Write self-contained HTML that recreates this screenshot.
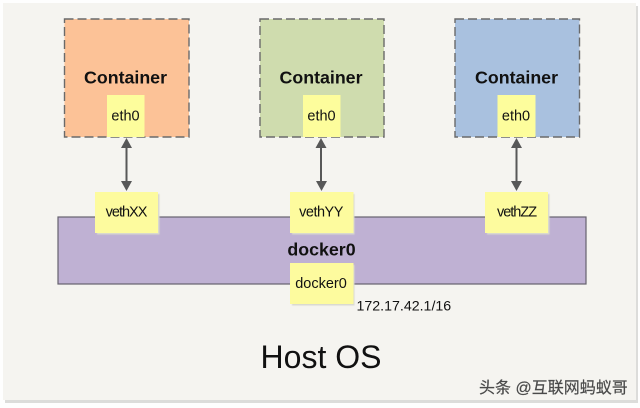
<!DOCTYPE html>
<html>
<head>
<meta charset="utf-8">
<style>
html,body{margin:0;padding:0;background:#fff;}
svg{display:block;}
text{font-family:"Liberation Sans","Noto Sans CJK SC",sans-serif;fill:#111;}
</style>
</head>
<body>
<svg width="640" height="408" viewBox="0 0 640 408" xmlns="http://www.w3.org/2000/svg">
<defs>
<filter id="b" x="-5%" y="-5%" width="110%" height="110%"><feGaussianBlur stdDeviation="0.4"/></filter>
</defs>
<rect width="640" height="408" fill="#fefefe"/>
<rect x="5" y="6" width="633" height="397" fill="#dcdcda"/>
<rect x="3" y="3" width="633" height="397" fill="#f5f4f0"/>

<g stroke="#6a6a6a" stroke-width="1.4" stroke-dasharray="9 4">
<rect x="64.5" y="19" width="124.5" height="118" fill="#fcc297"/>
<rect x="260" y="19" width="124" height="118" fill="#cfdcae"/>
<rect x="455" y="19" width="124.5" height="118" fill="#a9c1df"/>
</g>

<g font-size="17.800" font-weight="700" text-anchor="middle">
<text x="125.500" y="83.500">Container</text>
<text x="321" y="83.500">Container</text>
<text x="516.500" y="83.500">Container</text>
</g>

<g fill="#fdfd9c">
<rect x="107" y="95" width="37.500" height="42"/>
<rect x="303" y="95" width="37.500" height="42"/>
<rect x="497.500" y="95" width="38" height="42"/>
</g>
<g font-size="14.500" text-anchor="middle">
<text x="125.500" y="120.500">eth0</text>
<text x="321.500" y="120.500">eth0</text>
<text x="516" y="120.500">eth0</text>
</g>

<rect x="58" y="217" width="528" height="67" fill="#bfb1d3" stroke="#66626f" stroke-width="1.200"/>
<text x="321.500" y="255.500" font-size="17.800" font-weight="700" text-anchor="middle">docker0</text>

<g fill="#d9d9cf" filter="url(#b)">
<rect x="97" y="194" width="62.500" height="40.500"/>
<rect x="292" y="194" width="62.500" height="40.500"/>
<rect x="487" y="194" width="62.500" height="40.500"/>
<rect x="292" y="265" width="62.500" height="40.500"/>
</g>
<g fill="#fdfb9e">
<rect x="95" y="192" width="63" height="41"/>
<rect x="290" y="192" width="63.500" height="41"/>
<rect x="485" y="192" width="63" height="41"/>
<rect x="290" y="263" width="63.500" height="41"/>
</g>
<g font-size="14.500" text-anchor="middle">
<text x="126" y="216.500" letter-spacing="-1">vethXX</text>
<text x="321" y="216.500" letter-spacing="-0.500">vethYY</text>
<text x="516.500" y="216.500" letter-spacing="-1">vethZZ</text>
</g>
<text x="321" y="288" font-size="14.500" text-anchor="middle">docker0</text>
<text x="356.500" y="310.500" font-size="14.200">172.17.42.1/16</text>

<g stroke="#585858" stroke-width="2">
<line x1="126.500" y1="145" x2="126.500" y2="184"/>
<line x1="321" y1="145" x2="321" y2="184"/>
<line x1="516.500" y1="145" x2="516.500" y2="184"/>
</g>
<g fill="#585858">
<path d="M126.500 138l5.500 10h-11zM126.500 191l5.500-10h-11z"/>
<path d="M321 138l5.500 10h-11zM321.500 191l5.500-10h-11z"/>
<path d="M516.500 138l5.500 10h-11zM516.500 191l5.500-10h-11z"/>
</g>

<text x="321" y="368" font-size="32" text-anchor="middle">Host OS</text>
<text x="479" y="393" font-size="16" style="fill:#4a4a4a" stroke="#4a4a4a" stroke-width="0.200">头条 @互联网蚂蚁哥</text>
</svg>
</body>
</html>
